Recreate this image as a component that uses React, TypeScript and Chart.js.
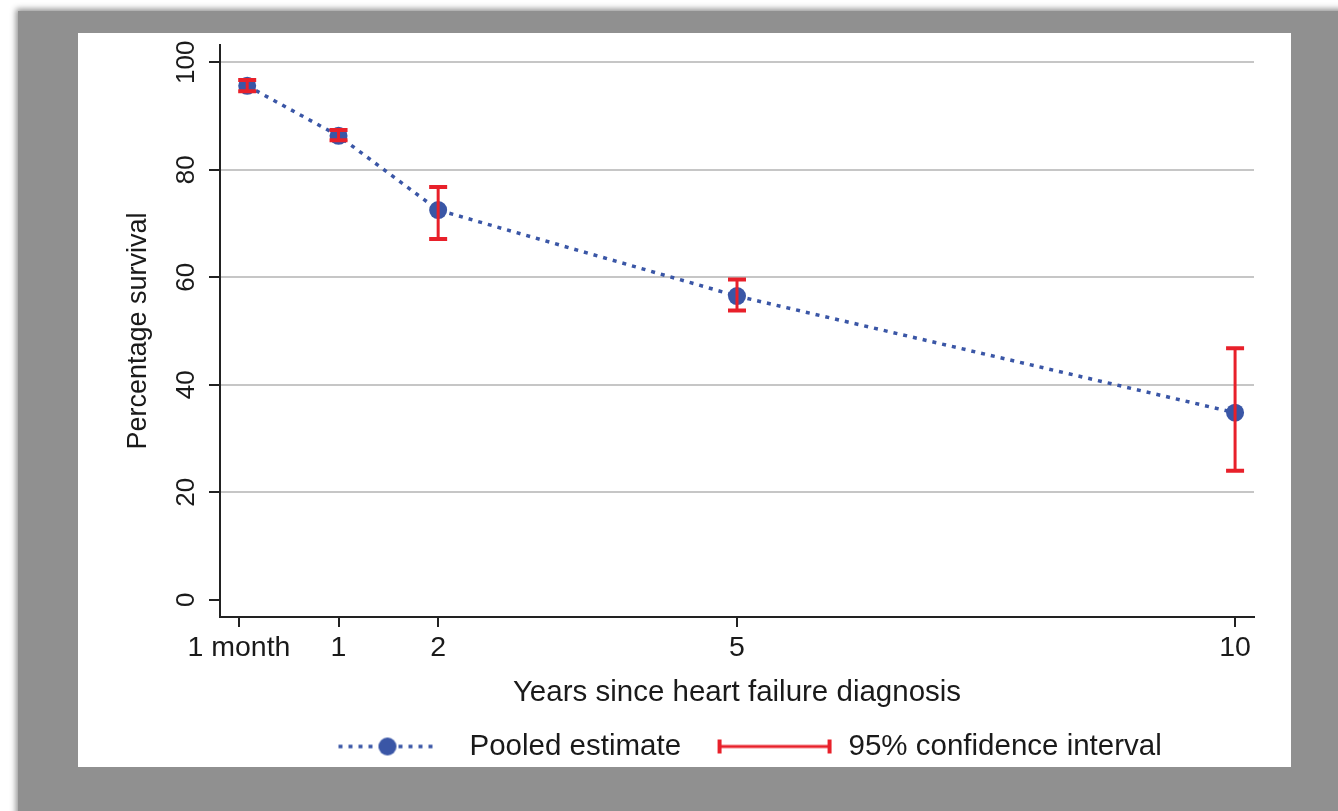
import React, { useEffect, useRef } from 'react';
import { Chart, registerables } from 'chart.js';

Chart.register(...registerables);

// ---- data ----
const xValues = [0.083, 1, 2, 5, 10];
const survival = [95.6, 86.3, 72.5, 56.5, 34.8];
const ciLower = [94.6, 85.5, 67.1, 53.8, 24.0];
const ciUpper = [96.7, 87.4, 76.8, 59.6, 46.8];
const xTickValues = [0, 1, 2, 5, 10];
const xTickLabels = ['1 month', '1', '2', '5', '10'];
const yTickValues = [0, 20, 40, 60, 80, 100];
const seriesLabel = 'Pooled estimate';
const ciLabel = '95% confidence interval';
const xTitle = 'Years since heart failure diagnosis';
const yTitle = 'Percentage survival';

// ---- styles ----
const BLUE = '#3a56a6';
const RED = '#e8202a';
const TEXT = '#1a1a1a';
const AXIS = '#222222';
const GRID = '#c6c6c6';
const FONT = "'Liberation Sans', Arial, Helvetica, sans-serif";

function makeSeriesSwatch(): HTMLCanvasElement {
  const c = document.createElement('canvas');
  c.width = 118;
  c.height = 24;
  const g = c.getContext('2d')!;
  g.strokeStyle = BLUE;
  g.lineWidth = 3.5;
  g.setLineDash([4, 6]);
  g.beginPath();
  g.moveTo(2, 12);
  g.lineTo(100, 12);
  g.stroke();
  g.setLineDash([]);
  g.fillStyle = BLUE;
  g.beginPath();
  g.arc(51, 12, 9, 0, Math.PI * 2);
  g.fill();
  return c;
}

function makeCISwatch(): HTMLCanvasElement {
  const c = document.createElement('canvas');
  c.width = 118;
  c.height = 24;
  const g = c.getContext('2d')!;
  g.strokeStyle = RED;
  g.lineWidth = 3;
  g.beginPath();
  g.moveTo(3, 12);
  g.lineTo(115, 12);
  g.stroke();
  g.lineWidth = 4;
  g.beginPath();
  g.moveTo(4, 5);
  g.lineTo(4, 19);
  g.moveTo(114, 5);
  g.lineTo(114, 19);
  g.stroke();
  return c;
}

const errorBarsPlugin = {
  id: 'errorBars',
  afterDatasetsDraw(chart: any) {
    const { ctx, scales } = chart;
    const xs = scales.x;
    const ys = scales.y;
    ctx.save();
    ctx.strokeStyle = RED;
    xValues.forEach((xv, i) => {
      const px = xs.getPixelForValue(xv);
      const lo = ys.getPixelForValue(ciLower[i]);
      const hi = ys.getPixelForValue(ciUpper[i]);
      ctx.lineWidth = 3;
      ctx.beginPath();
      ctx.moveTo(px, lo);
      ctx.lineTo(px, hi);
      ctx.stroke();
      ctx.lineWidth = 4;
      ctx.beginPath();
      ctx.moveTo(px - 9, lo);
      ctx.lineTo(px + 9, lo);
      ctx.moveTo(px - 9, hi);
      ctx.lineTo(px + 9, hi);
      ctx.stroke();
    });
    ctx.restore();
  },
};

const legendShiftPlugin = {
  id: 'legendShift',
  afterLayout(chart: any) {
    const l = chart.legend;
    if (l) {
      l.left += 12;
      l.right += 12;
    }
  },
};

export default function App() {
  const canvasRef = useRef<HTMLCanvasElement | null>(null);

  useEffect(() => {
    if (!canvasRef.current) return;
    const swatch1 = makeSeriesSwatch();
    const swatch2 = makeCISwatch();
    const chart = new Chart(canvasRef.current, {
      type: 'line',
      data: {
        datasets: [
          {
            label: seriesLabel,
            data: xValues.map((x, i) => ({ x, y: survival[i] })),
            borderColor: BLUE,
            backgroundColor: BLUE,
            borderWidth: 3.5,
            borderDash: [4, 6],
            pointRadius: 9,
            pointBackgroundColor: BLUE,
            pointBorderWidth: 0,
            tension: 0,
            fill: false,
          },
        ],
      },
      options: {
        animation: false,
        responsive: false,
        devicePixelRatio: 1,
        layout: { padding: { left: 0, right: 37, top: 12, bottom: 1.75 } },
        plugins: {
          tooltip: { enabled: false },
          legend: {
            position: 'bottom',
            fullSize: false,
            onClick: () => {},
            labels: {
              usePointStyle: true,
              pointStyleWidth: 118.5,
              padding: 34.25,
              color: TEXT,
              font: { family: FONT, size: 29.5 },
              generateLabels: () => [
                {
                  text: seriesLabel,
                  pointStyle: swatch1 as any,
                  fillStyle: BLUE,
                  strokeStyle: BLUE,
                  lineWidth: 0,
                  hidden: false,
                  datasetIndex: 0,
                  fontColor: TEXT,
                },
                {
                  text: ciLabel,
                  pointStyle: swatch2 as any,
                  fillStyle: RED,
                  strokeStyle: RED,
                  lineWidth: 0,
                  hidden: false,
                  datasetIndex: 0,
                  fontColor: TEXT,
                },
              ],
            },
          },
        },
        scales: {
          x: {
            type: 'linear',
            min: -0.19,
            max: 10.19,
            afterBuildTicks: (s: any) => {
              s.ticks = xTickValues.map((v) => ({ value: v }));
            },
            afterFit: (s: any) => {
              s.height = 80.5;
              s.paddingLeft = 0;
              s.paddingRight = 0;
            },
            ticks: {
              autoSkip: false,
              maxRotation: 0,
              minRotation: 0,
              padding: 4,
              color: TEXT,
              font: { family: FONT, size: 28.5 },
              callback: (v: any) => {
                const idx = xTickValues.indexOf(Number(v));
                return idx >= 0 ? xTickLabels[idx] : '';
              },
            },
            grid: {
              drawOnChartArea: false,
              drawTicks: true,
              tickLength: 10,
              tickColor: AXIS,
              tickWidth: 2,
              color: AXIS,
              lineWidth: 2,
            },
            border: { display: true, color: AXIS, width: 2 },
            title: {
              display: true,
              text: xTitle,
              color: TEXT,
              font: { family: FONT, size: 29.5 },
              padding: { top: 0, bottom: -12.7 },
            },
          },
          y: {
            type: 'linear',
            min: -3.2,
            max: 103.2,
            afterBuildTicks: (s: any) => {
              s.ticks = yTickValues.map((v) => ({ value: v }));
            },
            afterFit: (s: any) => {
              s.width = 142;
              s.paddingTop = 0;
              s.paddingBottom = 0;
            },
            ticks: {
              minRotation: 90,
              maxRotation: 90,
              crossAlign: 'center',
              padding: 0,
              color: TEXT,
              font: { family: FONT, size: 26 },
              callback: (v: any) => String(v),
            },
            grid: {
              color: (c: any) => (c.tick && c.tick.value === 0 ? 'rgba(0,0,0,0)' : GRID),
              lineWidth: 2,
              tickLength: 11,
              tickColor: AXIS,
              tickWidth: 2,
            },
            border: { display: true, color: AXIS, width: 2 },
            title: {
              display: true,
              text: yTitle,
              color: TEXT,
              font: { family: FONT, size: 27 },
              padding: { top: 44.8, bottom: 0 },
            },
          },
        },
      } as any,
      plugins: [errorBarsPlugin, legendShiftPlugin],
    });
    return () => chart.destroy();
  }, []);

  return (
    <div
      style={{
        position: 'fixed',
        left: 0,
        top: 0,
        width: 1338,
        height: 811,
        background: '#ffffff',
        overflow: 'hidden',
      }}
    >
      <div
        style={{
          position: 'absolute',
          left: 18,
          top: 11,
          width: 1340,
          height: 820,
          background: '#909090',
          boxShadow: '0 0 6px 2px #909090',
        }}
      />
      <div
        style={{
          position: 'absolute',
          left: 78,
          top: 33,
          width: 1213,
          height: 734,
          background: '#ffffff',
        }}
      />
      <canvas
        ref={canvasRef}
        width={1213}
        height={740}
        style={{ position: 'absolute', left: 78, top: 33, width: 1213, height: 740, display: 'block' }}
      />
    </div>
  );
}
